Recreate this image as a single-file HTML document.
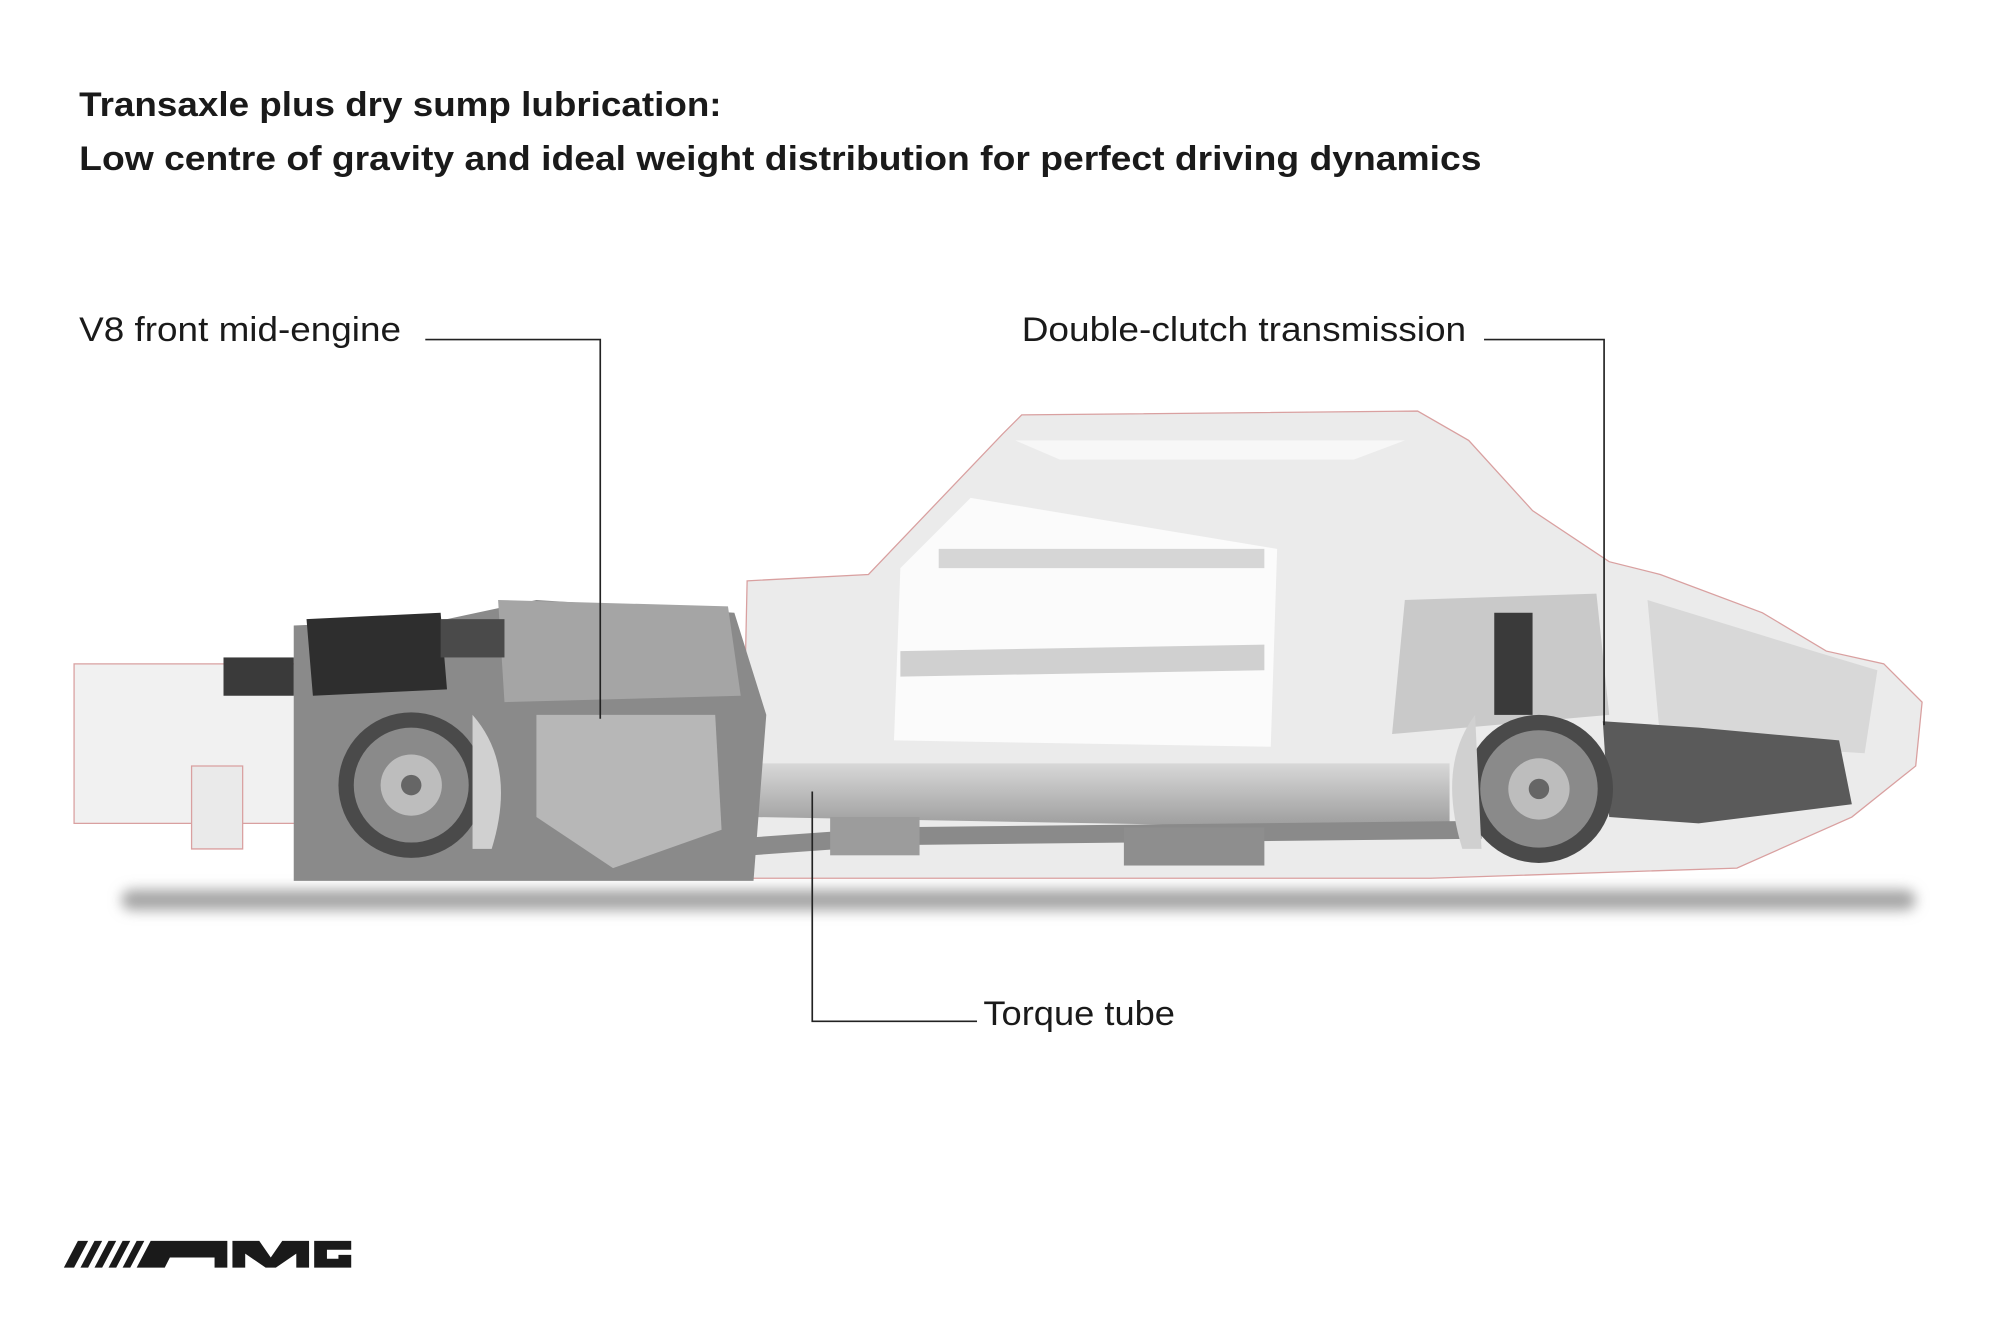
<!DOCTYPE html>
<html><head><meta charset="utf-8"><style>
html,body{margin:0;padding:0;background:#fff;}
svg{display:block;}
text{font-family:"Liberation Sans",sans-serif;fill:#1a1a1a;}
</style></head><body>
<svg width="2000" height="1320" viewBox="0 0 1566 1034" preserveAspectRatio="none" xmlns="http://www.w3.org/2000/svg">
<defs>
<filter id="bl" x="-10%" y="-200%" width="120%" height="500%"><feGaussianBlur stdDeviation="5"/></filter>
<linearGradient id="tube" x1="0" y1="0" x2="0" y2="1"><stop offset="0" stop-color="#d8d8d8"/><stop offset="1" stop-color="#9a9a9a"/></linearGradient>
</defs>
<rect width="1566" height="1034" fill="#fff"/>
<text x="62" y="91" font-size="27" font-weight="bold" textLength="503" lengthAdjust="spacingAndGlyphs">Transaxle plus dry sump lubrication:</text>
<text x="62" y="133" font-size="27" font-weight="bold" textLength="1098" lengthAdjust="spacingAndGlyphs">Low centre of gravity and ideal weight distribution for perfect driving dynamics</text>

<rect x="95" y="697" width="1405" height="16" rx="8" fill="#a5a5a5" filter="url(#bl)"/>

<g stroke="#d9a0a0" stroke-width="1">
<polygon points="585,455 680,450 785,340 800,325 1110,322 1150,345 1200,400 1260,440 1300,450 1380,480 1430,510 1475,520 1505,550 1500,600 1450,640 1360,680 1120,688 580,688" fill="#ebebeb"/>
<polygon points="58,520 245,520 245,645 58,645" fill="#f1f1f1"/>
<polygon points="150,600 190,600 190,665 150,665" fill="#eaeaea"/>
</g>
<polygon points="795,345 1100,345 1060,360 830,360" fill="#f7f7f7"/>
<polygon points="705,445 760,390 1000,430 995,585 700,580" fill="#fbfbfb"/>
<polygon points="735,430 990,430 990,445 735,445" fill="#d6d6d6"/>
<polygon points="705,510 990,505 990,525 705,530" fill="#d0d0d0"/>
<polygon points="1100,470 1250,465 1260,560 1090,575" fill="#c9c9c9"/>
<polygon points="1290,470 1420,510 1470,525 1460,590 1300,580" fill="#d8d8d8"/>
<polygon points="590,598 1135,598 1135,650 590,640" fill="url(#tube)"/>
<path d="M420,650 L560,665 L700,655 L1160,650" stroke="#8a8a8a" stroke-width="14" fill="none"/>
<rect x="650" y="640" width="70" height="30" fill="#9c9c9c"/>
<rect x="880" y="648" width="110" height="30" fill="#8e8e8e"/>
<polygon points="230,490 350,485 420,470 575,480 600,560 590,690 230,690" fill="#8a8a8a"/>
<polygon points="390,470 570,475 580,545 395,550" fill="#a5a5a5"/>
<polygon points="420,560 560,560 565,650 480,680 420,640" fill="#b7b7b7"/>
<polygon points="240,485 345,480 350,540 245,545" fill="#2e2e2e"/>
<rect x="175" y="515" width="55" height="30" fill="#3a3a3a"/>
<rect x="345" y="485" width="50" height="30" fill="#4a4a4a"/>
<circle cx="322" cy="615" r="57" fill="#4a4a4a"/>
<circle cx="322" cy="615" r="45" fill="#8a8a8a"/>
<circle cx="322" cy="615" r="24" fill="#bdbdbd"/>
<circle cx="322" cy="615" r="8" fill="#666"/>
<path d="M370,560 Q405,600 385,665 L370,665 Z" fill="#d0d0d0"/>
<rect x="1170" y="480" width="30" height="80" fill="#3a3a3a"/>
<polygon points="1255,565 1330,570 1440,580 1450,630 1330,645 1260,640" fill="#5a5a5a"/>
<circle cx="1205" cy="618" r="58" fill="#4a4a4a"/>
<circle cx="1205" cy="618" r="46" fill="#8a8a8a"/>
<circle cx="1205" cy="618" r="24" fill="#bdbdbd"/>
<circle cx="1205" cy="618" r="8" fill="#666"/>
<path d="M1155,560 Q1125,600 1145,665 L1160,665 Z" fill="#d0d0d0"/>

<g stroke="#222" stroke-width="1.3" fill="none">
<polyline points="333,266 470,266 470,563"/>
<polyline points="1162,266 1256,266 1256,568"/>
<polyline points="636,620 636,800 765,800"/>
</g>
<text x="62" y="267" font-size="27" textLength="252" lengthAdjust="spacingAndGlyphs">V8 front mid-engine</text>
<text x="800" y="267" font-size="27" textLength="348" lengthAdjust="spacingAndGlyphs">Double-clutch transmission</text>
<text x="770" y="803" font-size="27" textLength="150" lengthAdjust="spacingAndGlyphs">Torque tube</text>

<g fill="#1a1a1a">
<polygon points="50,993 61,972 69,972 58,993"/>
<polygon points="63,993 74,972 80,972 69,993"/>
<polygon points="74,993 85,972 91,972 80,993"/>
<polygon points="85,993 96,972 102,972 91,993"/>
<polygon points="96,993 107,972 113,972 102,993"/>
<polygon points="107,993 118,972 178,972 178,993 168,993 168,985 133,985 129,993"/>
<polygon points="182,993 182,972 203,972 212,985 221,972 242,972 242,993 232,993 232,982 216,993 208,993 192,982 192,993"/>
<polygon points="246,993 246,972 275,972 275,979 256,979 256,986 265,986 265,983 275,983 275,993"/>
</g>
</svg>
</body></html>
